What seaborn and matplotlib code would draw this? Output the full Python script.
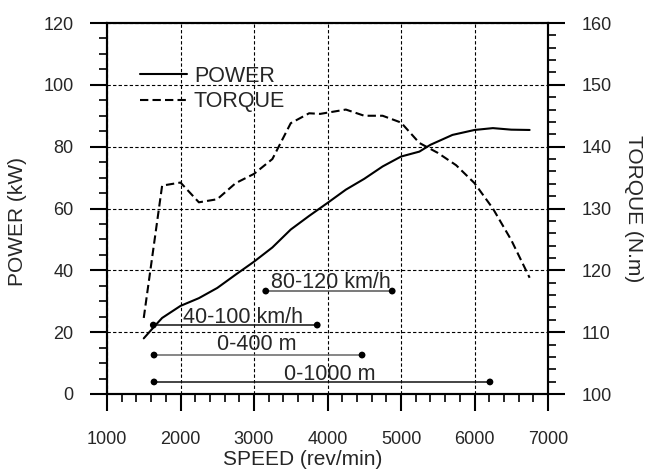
import numpy as np
import pandas as pd
import matplotlib
matplotlib.use("Agg")
import matplotlib.pyplot as plt
from matplotlib.ticker import MultipleLocator
import seaborn as sns

# ---------------- data ----------------
power_rpm = [1500, 1650, 1750, 2000, 2250, 2500, 2750, 3000, 3250, 3500, 3750,
             4000, 4250, 4500, 4750, 5000, 5250, 5400, 5700, 6000, 6250, 6500, 6750]
power_kw = [18.0, 22.0, 24.6, 28.5, 31.0, 34.3, 38.6, 42.8, 47.4, 53.2, 57.6,
            61.8, 66.1, 69.6, 73.6, 76.8, 78.4, 80.6, 83.8, 85.4, 86.0, 85.5, 85.4]

torque_rpm = [1500, 1750, 2000, 2250, 2500, 2750, 3000, 3250, 3500, 3750, 3900,
              4250, 4500, 4750, 5000, 5250, 5500, 5750, 6000, 6250, 6500, 6750]
torque_nm = [112.3, 133.7, 134.2, 131.0, 131.5, 134.1, 135.6, 138.0, 143.8, 145.4, 145.3,
             146.0, 145.0, 145.0, 143.9, 140.6, 139.0, 137.0, 134.1, 130.0, 124.9, 118.8]

range_labels = ["80-120 km/h", "40-100 km/h", "0-400 m", "0-1000 m"]
range_start = [3160, 1630, 1640, 1640]
range_end = [4880, 3860, 4470, 6210]
range_level = [33.3, 22.3, 12.6, 3.9]

x_ticks = [1000, 2000, 3000, 4000, 5000, 6000, 7000]
left_ticks = [0, 20, 40, 60, 80, 100, 120]
right_ticks = [100, 110, 120, 130, 140, 150, 160]

# --------------- styles ---------------
range_colors = ["#555555", "#111111", "#666666", "#111111"]
label_dx = [30, 100, -15, 105]
label_dy = [1.0, 0.6, 1.5, 0.6]

sns.set_style("white")
plt.rcParams["font.family"] = ["Liberation Sans", "DejaVu Sans"]

power_df = pd.DataFrame({"rpm": power_rpm, "kW": power_kw})
torque_df = pd.DataFrame({"rpm": torque_rpm, "Nm": torque_nm})

fig = plt.figure(figsize=(6.45, 4.69), dpi=100)
ax = fig.add_axes([107 / 645, 1 - 394 / 469, 441 / 645, 371 / 469])
ax2 = ax.twinx()

sns.lineplot(data=power_df, x="rpm", y="kW", ax=ax, color="black", lw=1.5,
             label="POWER", legend=False)
sns.lineplot(data=torque_df, x="rpm", y="Nm", ax=ax2, color="black", lw=1.5,
             linestyle=(0, (4, 2)), label="TORQUE", legend=False)

# acceleration ranges
ax.hlines(range_level, range_start, range_end, colors=range_colors, lw=1.1, zorder=3)
pts = pd.DataFrame({"rpm": range_start + range_end, "kW": range_level + range_level})
sns.scatterplot(data=pts, x="rpm", y="kW", ax=ax, color="black", s=24,
                edgecolor="none", zorder=4, legend=False)
for lab, s, e, lv, dx, dy in zip(range_labels, range_start, range_end, range_level,
                                 label_dx, label_dy):
    ax.text((s + e) / 2 + dx, lv + dy, lab, ha="center", va="baseline", fontsize=15.5)

# axes limits & ticks
ax.set_xlim(1000, 7000)
ax.set_ylim(0, 120)
ax2.set_ylim(100, 160)
ax.set_xticks(x_ticks)
ax.set_yticks(left_ticks)
ax2.set_yticks(right_ticks)
ax.xaxis.set_minor_locator(MultipleLocator(200))
ax.yaxis.set_minor_locator(MultipleLocator(5))
ax2.yaxis.set_minor_locator(MultipleLocator(2))

ax.tick_params(axis="both", which="major", direction="out", length=12, width=1.5,
               labelsize=13, color="black")
ax.tick_params(axis="both", which="minor", direction="out", length=6, width=1.2,
               color="black")
ax.tick_params(axis="y", which="major", pad=12)
ax.tick_params(axis="x", which="major", pad=15)
ax.tick_params(left=True, bottom=True, which="both")
ax2.tick_params(axis="y", which="major", direction="out", length=12, width=1.5,
                labelsize=13, pad=12, right=True, color="black")
ax2.tick_params(axis="y", which="minor", direction="out", length=6, width=1.2,
                right=True, color="black")

for a in (ax, ax2):
    for sp in a.spines.values():
        sp.set_visible(True)
        sp.set_linewidth(1.5)
        sp.set_color("black")

ax.grid(True, which="major", linestyle=(0, (3, 2)), color="black", lw=0.8)
ax2.grid(False)

ax.set_xlabel("SPEED (rev/min)", fontsize=15)
ax.xaxis.set_label_coords(0.444, -0.191)
ax.xaxis.label.set_va("baseline")
ax.set_ylabel("POWER (kW)", fontsize=15, va="center", ha="center")
ax.yaxis.set_label_coords(-0.204, 0.465)
ax2.set_ylabel("TORQUE (N.m)", fontsize=15, rotation=-90, va="center", ha="center",
               rotation_mode="default")
ax2.yaxis.set_label_coords(1.193, 0.50)

h1 = ax.get_lines()[0]
h2 = ax2.get_lines()[0]
ax2.legend([h1, h2], ["POWER", "TORQUE"], loc="upper left",
           bbox_to_anchor=(140 / 645, 1 - 66 / 469), bbox_transform=fig.transFigure,
           frameon=False, fontsize=15.5, handlelength=2.2, handletextpad=0.3,
           labelspacing=0.2, borderpad=0, borderaxespad=0)

fig.savefig("out.png", dpi=100)
